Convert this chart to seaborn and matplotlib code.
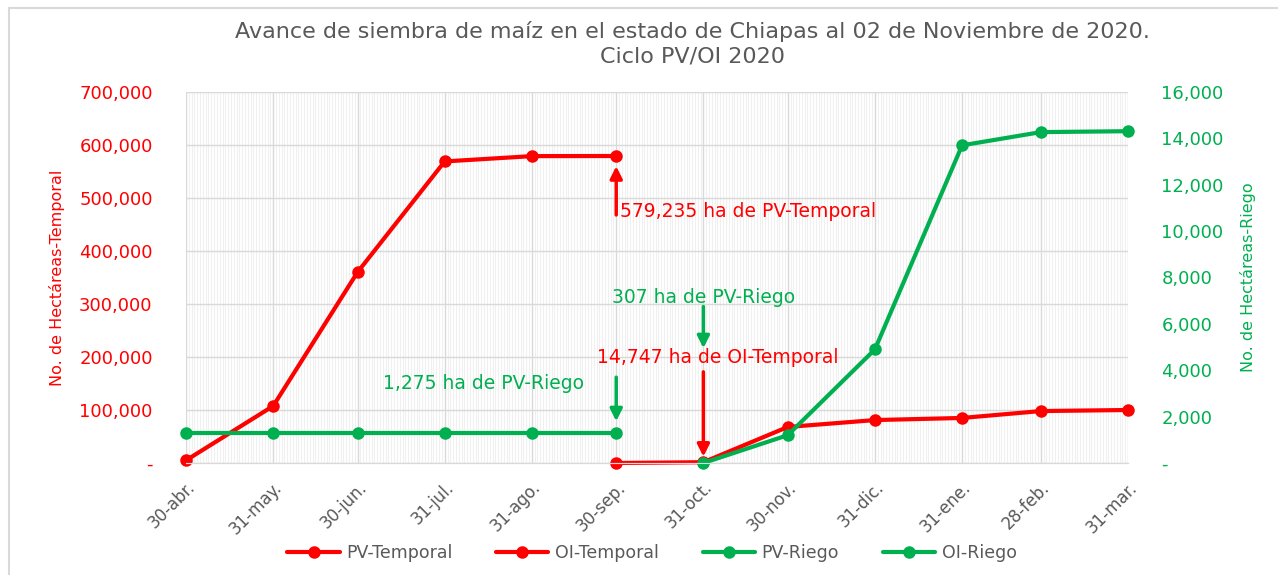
import pandas as pd
import seaborn as sns
import matplotlib.pyplot as plt
import matplotlib.dates as mdates
from matplotlib.ticker import FuncFormatter, MultipleLocator
from matplotlib.lines import Line2D

# data
tick_dates = ["2020-04-30", "2020-05-31", "2020-06-30", "2020-07-31", "2020-08-31", "2020-09-30",
              "2020-10-31", "2020-11-30", "2020-12-31", "2021-01-31", "2021-02-28", "2021-03-31"]
tick_labels = ["30-abr.", "31-may.", "30-jun.", "31-jul.", "31-ago.", "30-sep.",
               "31-oct.", "30-nov.", "31-dic.", "31-ene.", "28-feb.", "31-mar."]

pv_temporal_dates = tick_dates[0:6]
pv_temporal = [5000, 107500, 360000, 569000, 579000, 579235]

oi_temporal_dates = tick_dates[5:12]
oi_temporal = [0, 1500, 68000, 81000, 85000, 98000, 100000]

pv_riego_dates = tick_dates[0:6]
pv_riego = [1275, 1275, 1275, 1275, 1275, 1275]

oi_riego_dates = tick_dates[6:12]
oi_riego = [0, 1200, 4900, 13700, 14270, 14310]

RED = "#FF0000"
GREEN = "#00B050"
GRAY = "#595959"

sns.set_style("white")
plt.rcParams["font.family"] = ["DejaVu Sans"]

fig = plt.figure(figsize=(12.78, 5.75), dpi=100)
ax = fig.add_axes([186 / 1278, 1 - 463 / 575, (1128 - 186) / 1278, (463 - 92) / 575])
ax2 = ax.twinx()

line_kw = dict(marker="o", markersize=9, linewidth=3, markeredgewidth=0, clip_on=False)
sns.lineplot(x=pd.to_datetime(pv_temporal_dates), y=pv_temporal, ax=ax, color=RED, label="PV-Temporal", **line_kw)
sns.lineplot(x=pd.to_datetime(oi_temporal_dates), y=oi_temporal, ax=ax, color=RED, label="OI-Temporal", **line_kw)
sns.lineplot(x=pd.to_datetime(pv_riego_dates), y=pv_riego, ax=ax2, color=GREEN, label="PV-Riego", **line_kw)
sns.lineplot(x=pd.to_datetime(oi_riego_dates), y=oi_riego, ax=ax2, color=GREEN, label="OI-Riego", **line_kw)

h1, l1 = ax.get_legend_handles_labels()
h2, l2 = ax2.get_legend_handles_labels()
ax.get_legend().remove()
ax2.get_legend().remove()

x_ticks = pd.to_datetime(tick_dates)
ax.set_xlim(x_ticks[0], x_ticks[-1])
ax.set_ylim(0, 700000)
ax2.set_ylim(0, 16000)
ax.yaxis.set_major_locator(MultipleLocator(100000))
ax2.yaxis.set_major_locator(MultipleLocator(2000))

fmt = FuncFormatter(lambda v, p: "-" if v == 0 else f"{v:,.0f}")
ax.yaxis.set_major_formatter(fmt)
ax2.yaxis.set_major_formatter(fmt)

ax.set_xticks(x_ticks)
ax.set_xticklabels(tick_labels, rotation=45, ha="right", rotation_mode="anchor", color=GRAY, fontsize=12)
ax.xaxis.set_minor_locator(mdates.DayLocator())

ax.grid(True, which="major", axis="both", color="#D9D9D9", linewidth=1)
ax.grid(True, which="minor", axis="x", color="#F0F0F0", linewidth=0.8)
ax.set_axisbelow(True)
ax2.grid(False)

ax.tick_params(axis="x", which="major", length=5, color="#D9D9D9", pad=6)
ax.tick_params(axis="x", which="minor", length=0)
ax.tick_params(axis="y", length=0, pad=24, labelcolor=RED, labelsize=13)
ax2.tick_params(axis="y", length=0, pad=24, labelcolor=GREEN, labelsize=13)

for a in (ax, ax2):
    for side in ("top", "right", "left"):
        a.spines[side].set_visible(False)
    a.spines["bottom"].set_color("#D9D9D9")

ax.set_xlabel(None)
ax.set_ylabel("No. de Hectáreas-Temporal", color=RED, fontsize=11.5, labelpad=10)
ax2.set_ylabel("No. de Hectáreas-Riego", color=GREEN, fontsize=11.5, labelpad=12)

# annotations
sep30 = pd.Timestamp("2020-09-30")
oct31 = pd.Timestamp("2020-10-31")
arrow_kw = dict(arrowstyle="-|>", lw=2.5, mutation_scale=18, shrinkA=0, shrinkB=0)

ax.annotate("", xy=(sep30, 560000), xytext=(sep30, 468000), arrowprops=dict(color=RED, **arrow_kw))
ax.text(sep30 + pd.Timedelta(days=1.5), 475000, "579,235 ha de PV-Temporal", color=RED, fontsize=13.5,
        va="center", ha="left")

ax2.annotate("", xy=(sep30, 1800), xytext=(sep30, 3700), arrowprops=dict(color=GREEN, **arrow_kw))
ax2.text(sep30 - pd.Timedelta(days=11.5), 3450, "1,275 ha de PV-Riego", color=GREEN, fontsize=13.5,
         va="center", ha="right")

ax2.annotate("", xy=(oct31, 4950), xytext=(oct31, 6750), arrowprops=dict(color=GREEN, **arrow_kw))
ax2.text(oct31, 7150, "307 ha de PV-Riego", color=GREEN, fontsize=13.5, va="center", ha="center")

ax.annotate("", xy=(oct31, 12000), xytext=(oct31, 172000), arrowprops=dict(color=RED, **arrow_kw))
ax.text(oct31 + pd.Timedelta(days=5), 199000, "14,747 ha de OI-Temporal", color=RED, fontsize=13.5,
        va="center", ha="center")

fig.text(692 / 1278, 1 - 32 / 575, "Avance de siembra de maíz en el estado de Chiapas al 02 de Noviembre de 2020.",
         ha="center", va="center", color=GRAY, fontsize=16)
fig.text(692 / 1278, 1 - 56 / 575, "Ciclo PV/OI 2020", ha="center", va="center", color=GRAY, fontsize=16)

fig.legend(h1 + h2, l1 + l2, loc="center", bbox_to_anchor=(652 / 1278, 1 - 553 / 575), ncol=4,
           frameon=False, fontsize=12.5, labelcolor=GRAY, handlelength=3, columnspacing=2.5, handletextpad=0.4)

# chart border
fig.add_artist(Line2D([9 / 1278, 1.0], [1 - 8 / 575, 1 - 8 / 575], color="#D9D9D9", lw=1.5,
                      transform=fig.transFigure))
fig.add_artist(Line2D([9 / 1278, 9 / 1278], [0, 1 - 8 / 575], color="#D9D9D9", lw=1.5,
                      transform=fig.transFigure))

fig.savefig("out.png", dpi=100)
